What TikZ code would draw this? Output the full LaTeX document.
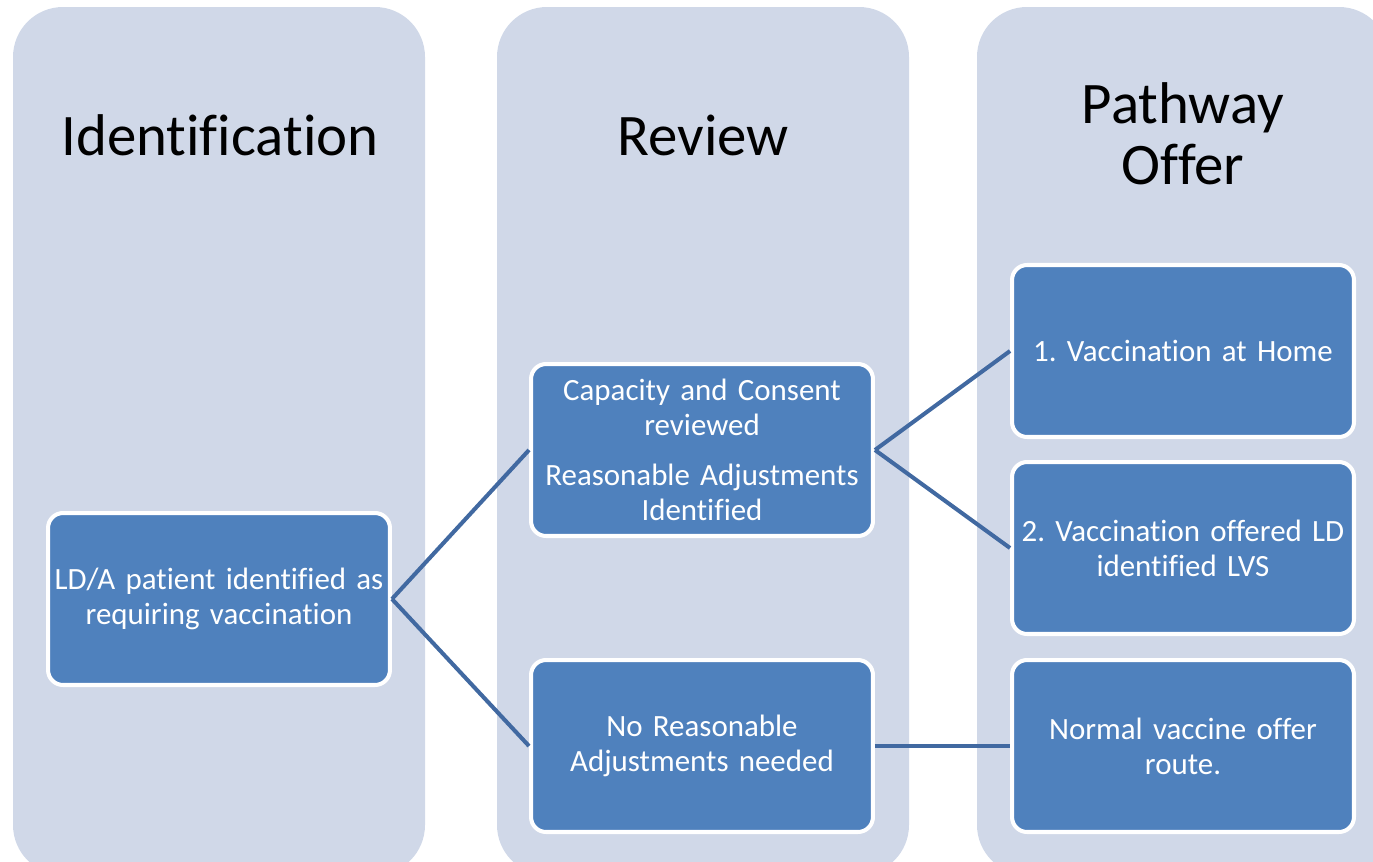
\documentclass[tikz,border=0pt]{standalone}
\usepackage{fontspec}
\setmainfont{Carlito}[Ligatures=CommonOff]
\usetikzlibrary{positioning}

\definecolor{lanebg}{HTML}{D0D8E8}
\definecolor{boxblue}{HTML}{4F81BD}
\definecolor{linkblue}{HTML}{4169A1}

\tikzset{
  lane/.style={fill=lanebg, rounded corners=1cm},
  lanetitle/.style={text=black, align=center, font=\fontsize{33.5}{35}\selectfont},
  stepbox/.style={draw=white, line width=2.3pt, fill=boxblue, rounded corners=0.3cm,
    minimum width=6.84cm, minimum height=3.44cm, text width=6.7cm, align=center,
    text=white, inner sep=0pt, font=\fontsize{17.6}{19.8}\selectfont},
  link/.style={draw=linkblue, line width=2.3pt}
}

\begin{document}
\frenchspacing
\begin{tikzpicture}[x=0.02cm, y=-0.02cm]
		\useasboundingbox (0,0) rectangle (1373,862);
		\clip (0,0) rectangle (1373,862);
		%
		% three lanes
		\fill[lane] (13,7) rectangle (425,875);
		\fill[lane] (497,7) rectangle (909,875);
		\fill[lane] (977,7) rectangle (1389,875);
		%
		\node[lanetitle] (T1) at (220,135) {Identification};
		\node[lanetitle] (T2) at (703,135) {Review};
		\node[lanetitle] (T3) at (1183,134) {Pathway\\Offer};
		%
		\node[stepbox] (ld) at (219,599) {LD/A patient identified as\\requiring vaccination};
		\node[stepbox] (capacity) at (702,450) {Capacity and Consent\\reviewed\\[8.5pt]Reasonable Adjustments\\Identified};
		\node[stepbox] (noadj) at (702,746) {No Reasonable\\Adjustments needed};
		\node[stepbox] (home) at (1183,351) {1. Vaccination at Home};
		\node[stepbox] (offered) at (1183,548) {2. Vaccination offered LD\\identified LVS};
		\node[stepbox] (normal) at (1183,746) {Normal vaccine offer\\route.};
		%
		\path[link]
		% identification to review
		(ld.east) edge (capacity.west)
		(ld.east) edge (noadj.west)
		% review to pathway
		(capacity.east) edge (home.west)
		(capacity.east) edge (offered.west)
		(noadj.east) edge (normal.west);
	\end{tikzpicture}
\end{document}
